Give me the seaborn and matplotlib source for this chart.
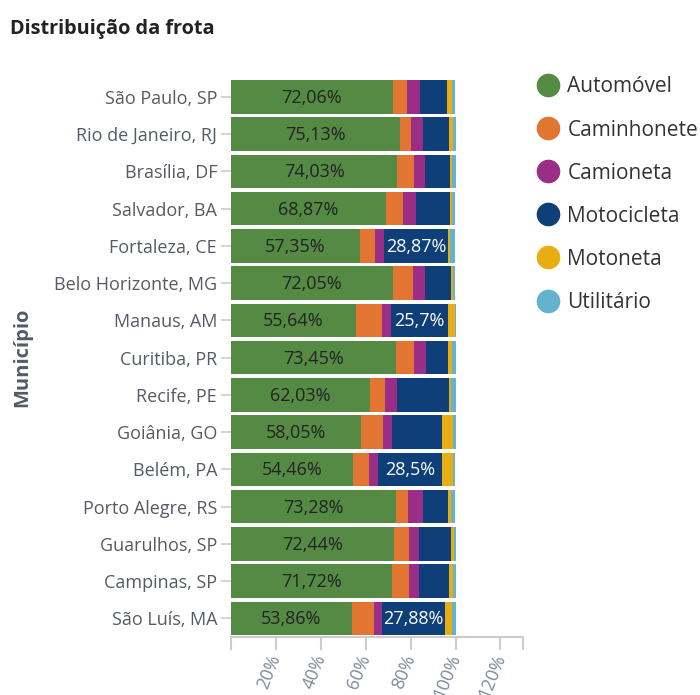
import numpy as np
import pandas as pd
import seaborn as sns
import matplotlib
matplotlib.use("Agg")
import matplotlib.pyplot as plt
from matplotlib.lines import Line2D

cities = ["São Paulo, SP", "Rio de Janeiro, RJ", "Brasília, DF", "Salvador, BA",
          "Fortaleza, CE", "Belo Horizonte, MG", "Manaus, AM", "Curitiba, PR",
          "Recife, PE", "Goiânia, GO", "Belém, PA", "Porto Alegre, RS",
          "Guarulhos, SP", "Campinas, SP", "São Luís, MA"]
automovel = [72.06, 75.13, 74.03, 68.87, 57.35, 72.05, 55.64, 73.45, 62.03, 58.05, 54.46, 73.28, 72.44, 71.72, 53.86]
caminhonete = [6.5, 5.0, 7.4, 7.7, 6.9, 9.1, 11.5, 7.9, 6.4, 9.5, 6.9, 5.6, 6.8, 7.6, 9.7]
camioneta = [5.7, 5.5, 5.0, 5.6, 3.7, 5.4, 4.0, 5.3, 5.6, 4.2, 4.3, 6.5, 4.6, 4.3, 3.9]
motocicleta = [12.0, 11.4, 11.0, 15.3, 28.87, 11.3, 25.7, 10.1, 23.0, 22.1, 28.5, 11.4, 14.0, 13.5, 27.88]
motoneta = [2.2, 1.8, 0.9, 0.9, 0.9, 0.9, 2.8, 1.8, 1.0, 5.2, 4.6, 1.3, 1.6, 1.8, 3.0]
utilitario = [1.5, 1.2, 1.7, 1.6, 2.2, 1.2, 0.4, 1.5, 2.0, 1.0, 1.2, 1.9, 0.6, 1.1, 1.7]

categories = ["Automóvel", "Caminhonete", "Camioneta", "Motocicleta", "Motoneta", "Utilitário"]
colors = ["#548A43", "#E27532", "#9A2E86", "#0E3F79", "#E8AD10", "#65B2CF"]
series = [automovel, caminhonete, camioneta, motocicleta, motoneta, utilitario]

sns.set_theme(style="white")
plt.rcParams["font.family"] = ["Open Sans", "DejaVu Sans"]

fig = plt.figure(figsize=(7.0, 6.95), dpi=100)
ax = fig.add_axes([0.33, 0.0835, 0.417, 0.804])

vals = np.array(series) / 100.0
cum = np.cumsum(vals, axis=0)

# draw cumulative layers from the outermost to the innermost
for i in range(len(categories) - 1, -1, -1):
    df = pd.DataFrame({"Município": cities, "valor": cum[i]})
    sns.barplot(data=df, x="valor", y="Município", color=colors[i], saturation=1,
                width=0.9, edgecolor="none", linewidth=0, ax=ax, orient="h")

def fmt(v):
    return f"{v:g}".replace(".", ",") + "%"

for j in range(len(cities)):
    a = vals[0, j]
    ax.text(a / 2, j + 0.03, fmt(automovel[j]), ha="center", va="center",
            fontsize=13, color="#222222")
    if motocicleta[j] > 25:
        start = cum[2, j]
        ax.text(start + vals[3, j] / 2, j + 0.03, fmt(motocicleta[j]), ha="center",
                va="center", fontsize=13, color="white")

ax.set_xlim(0, 1.30)
ax.set_ylim(len(cities) - 0.5, -0.5)
ax.set_xticks([0, 0.2, 0.4, 0.6, 0.8, 1.0, 1.2, 1.30])
ax.set_xticklabels(["", "20%", "40%", "60%", "80%", "100%", "120%", ""],
                   rotation=68, ha="right", rotation_mode="anchor")
for lab in ax.get_xticklabels():
    lab.set_va("center")
ax.tick_params(axis="x", colors="#cccccc", labelcolor="#7f8a99", labelsize=13,
               length=9, width=1.5, direction="out", bottom=True, pad=4)
ax.tick_params(axis="y", colors="#cccccc", labelcolor="#555b66", labelsize=13,
               length=7, width=1.2, left=True, pad=3)
ax.set_xlabel("")
ax.set_ylabel("Município", fontsize=14.5, fontweight="bold", color="#555b66")
ax.yaxis.set_label_coords(-0.68, 0.5)
for s in ["top", "right", "left"]:
    ax.spines[s].set_visible(False)
ax.spines["bottom"].set_color("#cccccc")
ax.spines["bottom"].set_linewidth(1.5)

handles = [Line2D([0], [0], marker="o", linestyle="none", markersize=16,
                  markerfacecolor=c, markeredgecolor=c) for c in colors]
fig.legend(handles, categories, loc="upper left", bbox_to_anchor=(0.7615, 0.896),
           frameon=False, fontsize=15, labelspacing=1.06, handlelength=1.0,
           handletextpad=0.45, labelcolor="#333333", borderaxespad=0, borderpad=0.2)

fig.text(0.014, 0.958, "Distribuição da frota", fontsize=14.3, fontweight="bold",
         color="#222222", ha="left", va="center")

fig.savefig("out.png", dpi=100)
